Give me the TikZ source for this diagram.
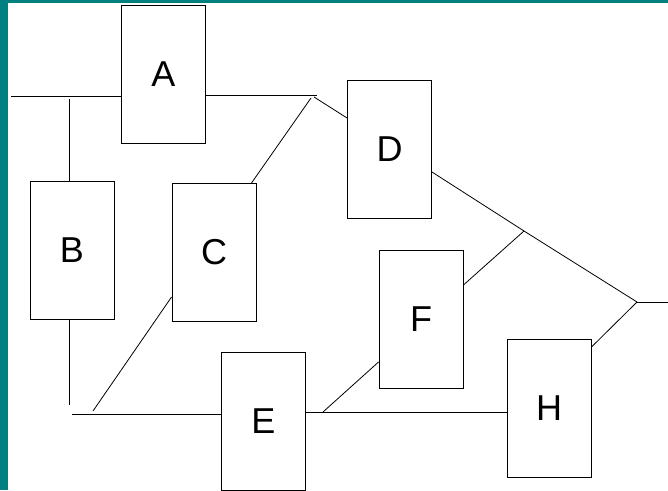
\documentclass[tikz,border=0pt]{standalone}
\usepackage{fontspec}
\setmainfont{Liberation Sans}
\usepackage{tikz}

\begin{document}
\begin{tikzpicture}[
  x=1pt, y=1pt,
  box/.style={draw, line width=0.9pt, fill=white, minimum width=84pt, minimum height=138pt, inner sep=0pt, font=\fontsize{36}{40}\selectfont},
  wire/.style={line width=0.8pt}
]
\useasboundingbox (0,0) rectangle (668,490);
\fill[white] (0,0) rectangle (668,490);
\fill[teal] (0,0) rectangle (8,490);
\fill[teal] (0,487) rectangle (668,490);
% blocks
\node[box] (A) at (163.5,415.5) {A};
\node[box] (B) at (72,239.5) {B};
\node[box] (C) at (214,237.5) {C};
\node[box] (D) at (389.5,340.5) {D};
\node[box] (E) at (263.5,69) {E};
\node[box] (F) at (421,171) {F};
\node[box] (H) at (549,81.5) {H};
% junction points
\coordinate (tl) at (11,394);
\coordinate (tr) at (317,395);
\coordinate (bt) at (69,391);
\coordinate (ct) at (311,392);
\coordinate (dj) at (314,393);
\coordinate (mj) at (524,259);
\coordinate (rj) at (637,188);
\coordinate (re) at (668,188);
\coordinate (bb) at (69,85);
\coordinate (bl) at (72,76);
\coordinate (cb) at (93,79);
\coordinate (ej) at (323,78);
% wires
\draw[wire] (tl) -- (tl -| A.west);
\draw[wire] (A.east |- tr) -- (tr);
\draw[wire] (bt) -- (bt |- B.north);
\draw[wire] ([xshift=-5pt]C.north east) -- (ct);
\draw[wire] (dj) -- ([yshift=31.5pt]D.west);
\draw[wire] ([yshift=-22.5pt]D.east) -- (mj) -- (rj);
\draw[wire] ([yshift=34pt]F.east) -- (mj);
\draw[wire] ([yshift=-8pt]H.north east) -- (rj);
\draw[wire] (rj) -- (re);
\draw[wire] (B.south -| bb) -- (bb);
\draw[wire] (bl) -- (bl -| E.west);
\draw[wire] ([yshift=-44.5pt]C.west) -- (cb);
\draw[wire] (ej -| E.east) -- (ej -| H.west);
\draw[wire] (ej) -- ([yshift=-43pt]F.west);
\end{tikzpicture}
\end{document}
